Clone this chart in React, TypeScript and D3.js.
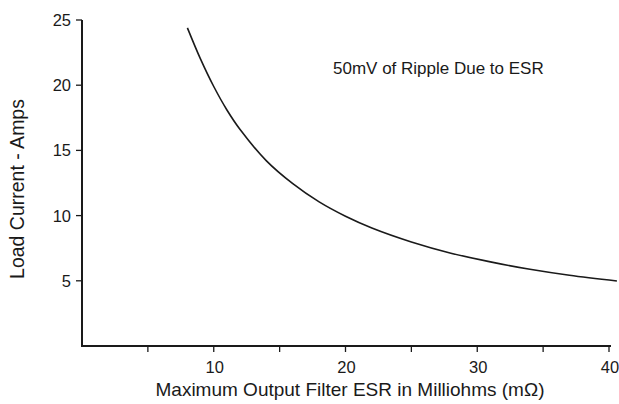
import React from "react";
import { scaleLinear, line, curveCatmullRom } from "d3";

// values
const esrValues = [8, 9, 10, 11, 12, 14, 16, 18, 20, 22, 25, 28, 31, 34, 37, 40.6];
const currentValues = [24.4, 22.0, 19.9, 18.1, 16.6, 14.2, 12.45, 11.05, 9.95, 9.05, 7.98, 7.12, 6.45, 5.88, 5.42, 4.98];

const xTicks = [5, 10, 15, 20, 25, 30, 35, 40];
const xTickLabels = [10, 20, 30, 40];
const yTicks = [5, 10, 15, 20, 25];

const title = "50mV of Ripple Due to ESR";
const xTitle = "Maximum Output Filter ESR in Milliohms (m\u03A9)";
const yTitle = "Load Current - Amps";

export default function App() {
  const width = 619;
  const height = 404;
  const font = "'Liberation Sans', Arial, sans-serif";
  const ink = "#1a1a1a";

  const xScale = scaleLinear().domain([0, 40]).range([82, 609]);
  const yScale = scaleLinear().domain([0, 25]).range([346, 20]);

  const points = esrValues.map((x, i) => [x, currentValues[i]] as [number, number]);
  const path = line<[number, number]>()
    .x(d => xScale(d[0]))
    .y(d => yScale(d[1]))
    .curve(curveCatmullRom)(points);

  return (
    <svg
      width={width}
      height={height}
      viewBox={`0 0 ${width} ${height}`}
      style={{ position: "absolute", left: 0, top: 0, background: "white" }}
    >
      {/* axes */}
      <line x1={xScale(0)} y1={yScale(0)} x2={xScale(0)} y2={yScale(25)} stroke={ink} strokeWidth={2} />
      <line x1={xScale(0) - 1} y1={yScale(0)} x2={xScale(40) + 2} y2={yScale(0)} stroke={ink} strokeWidth={2} />

      {yTicks.map(t => (
        <g key={t}>
          <line x1={xScale(0) - 6} x2={xScale(0)} y1={yScale(t)} y2={yScale(t)} stroke={ink} strokeWidth={1.3} />
          <text x={xScale(0) - 11} y={yScale(t)} dy="0.36em" textAnchor="end" fontFamily={font} fontSize={16.5} fill={ink}>
            {t}
          </text>
        </g>
      ))}

      {xTicks.map(t => (
        <line key={t} x1={xScale(t)} x2={xScale(t)} y1={yScale(0)} y2={yScale(0) + 6} stroke={ink} strokeWidth={1.3} />
      ))}
      {xTickLabels.map(t => (
        <text key={t} x={xScale(t) + 1} y={373} textAnchor="middle" fontFamily={font} fontSize={16.5} fill={ink}>
          {t}
        </text>
      ))}

      {/* curve */}
      <path d={path ?? ""} fill="none" stroke={ink} strokeWidth={1.6} />

      <text x={333} y={74} fontFamily={font} fontSize={17} fill={ink}>{title}</text>
      <text x={350} y={396} textAnchor="middle" fontFamily={font} fontSize={19} fill={ink}>{xTitle}</text>
      <text
        transform={`translate(24, 189) rotate(-90)`}
        textAnchor="middle"
        fontFamily={font}
        fontSize={19.5}
        fill={ink}
      >
        {yTitle}
      </text>
    </svg>
  );
}
